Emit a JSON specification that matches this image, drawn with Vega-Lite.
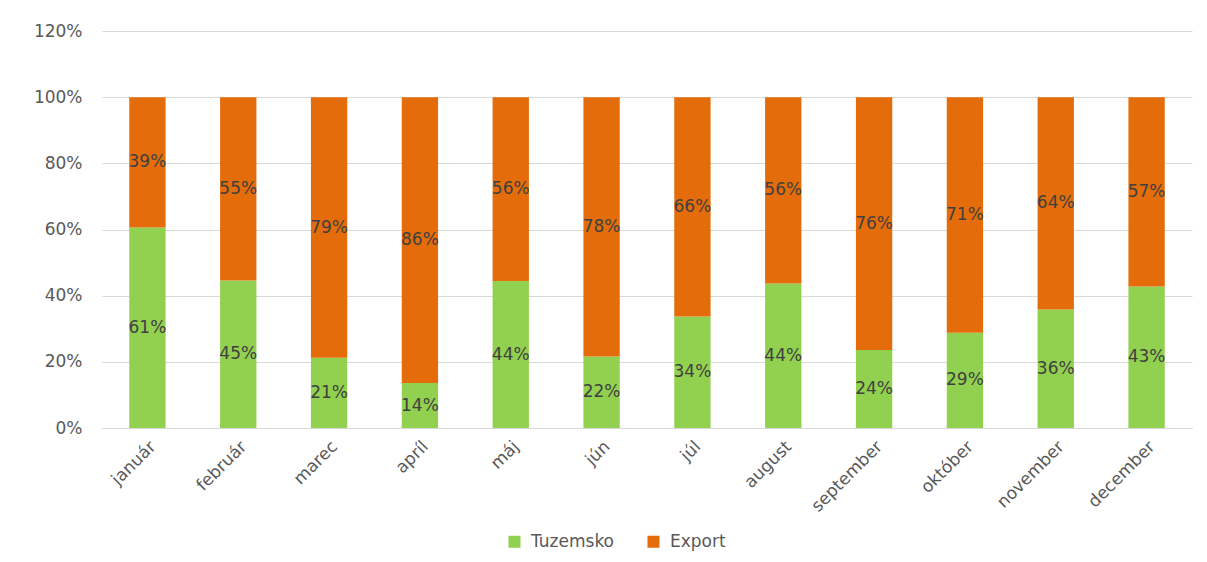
{
  "$schema": "https://vega.github.io/schema/vega-lite/v6.json",
  "autosize": {"type": "none"},
  "padding": {"left": 102, "top": 31, "right": 15, "bottom": 134},
  "width": 1090,
  "height": 397,
  "background": "white",
  "config": {"view": {"stroke": null}},
  "data": {"values": [
    {"month": "január", "order": 1, "series": "Tuzemsko", "value": 0.606},
    {"month": "január", "order": 2, "series": "Export", "value": 0.394},
    {"month": "február", "order": 1, "series": "Tuzemsko", "value": 0.446},
    {"month": "február", "order": 2, "series": "Export", "value": 0.554},
    {"month": "marec", "order": 1, "series": "Tuzemsko", "value": 0.212},
    {"month": "marec", "order": 2, "series": "Export", "value": 0.788},
    {"month": "apríl", "order": 1, "series": "Tuzemsko", "value": 0.136},
    {"month": "apríl", "order": 2, "series": "Export", "value": 0.864},
    {"month": "máj", "order": 1, "series": "Tuzemsko", "value": 0.444},
    {"month": "máj", "order": 2, "series": "Export", "value": 0.556},
    {"month": "jún", "order": 1, "series": "Tuzemsko", "value": 0.216},
    {"month": "jún", "order": 2, "series": "Export", "value": 0.784},
    {"month": "júl", "order": 1, "series": "Tuzemsko", "value": 0.337},
    {"month": "júl", "order": 2, "series": "Export", "value": 0.663},
    {"month": "august", "order": 1, "series": "Tuzemsko", "value": 0.437},
    {"month": "august", "order": 2, "series": "Export", "value": 0.563},
    {"month": "september", "order": 1, "series": "Tuzemsko", "value": 0.236},
    {"month": "september", "order": 2, "series": "Export", "value": 0.764},
    {"month": "október", "order": 1, "series": "Tuzemsko", "value": 0.288},
    {"month": "október", "order": 2, "series": "Export", "value": 0.712},
    {"month": "november", "order": 1, "series": "Tuzemsko", "value": 0.358},
    {"month": "november", "order": 2, "series": "Export", "value": 0.642},
    {"month": "december", "order": 1, "series": "Tuzemsko", "value": 0.428},
    {"month": "december", "order": 2, "series": "Export", "value": 0.572}
  ]},
  "transform": [
    {"stack": "value", "groupby": ["month"], "sort": [{"field": "order", "order": "ascending"}], "as": ["y0", "y1"]},
    {"calculate": "(datum.y0 + datum.y1) / 2", "as": "ymid"}
  ],
  "encoding": {
    "x": {
      "field": "month", "type": "nominal",
      "sort": ["január", "február", "marec", "apríl", "máj", "jún", "júl", "august", "september", "október", "november", "december"],
      "scale": {"paddingInner": 0.6, "paddingOuter": 0.3},
      "axis": {"title": null, "labelAngle": -45, "labelFontSize": 17, "labelFont": "DejaVu Sans", "labelColor": "#595959", "ticks": false, "domainColor": "#D9D9D9", "labelPadding": 10}
    }
  },
  "layer": [
    {
      "mark": {"type": "bar"},
      "encoding": {
        "y": {"field": "y0", "type": "quantitative", "scale": {"domain": [0, 1.2]},
          "axis": {"title": null, "format": ".0%", "values": [0, 0.2, 0.4, 0.6, 0.8, 1.0, 1.2], "labelFontSize": 17, "labelFont": "DejaVu Sans", "labelColor": "#595959", "domain": false, "ticks": false, "gridColor": "#D9D9D9", "labelPadding": 20}},
        "y2": {"field": "y1"},
        "color": {"field": "series", "type": "nominal",
          "scale": {"domain": ["Tuzemsko", "Export"], "range": ["#92D050", "#E46C0A"]},
          "legend": {"title": null, "orient": "none", "direction": "horizontal", "legendX": 404, "legendY": 502, "symbolType": "square", "symbolSize": 144, "symbolStrokeWidth": 0, "labelFontSize": 17, "labelFont": "DejaVu Sans", "labelColor": "#595959", "columnPadding": 30, "labelOffset": 8}}
      }
    },
    {
      "mark": {"type": "text", "fontSize": 17, "font": "DejaVu Sans", "color": "#404040"},
      "encoding": {
        "y": {"field": "ymid", "type": "quantitative"},
        "text": {"field": "value", "type": "quantitative", "format": ".0%"}
      }
    }
  ]
}
